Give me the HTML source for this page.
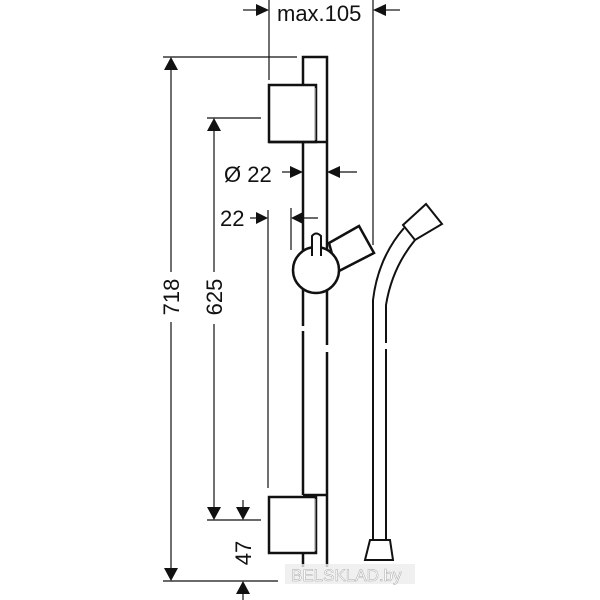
<!DOCTYPE html>
<html><head><style>
html,body{margin:0;padding:0;background:#fff;}
svg{display:block;}
text{font-family:"Liberation Sans","DejaVu Sans",sans-serif;fill:#111;}
</style></head><body>
<svg width="600" height="600" viewBox="0 0 600 600" xmlns="http://www.w3.org/2000/svg">
<g stroke="#111" fill="none">
 <g stroke-width="1.2">
  <line x1="269" y1="0" x2="269" y2="80"/>
  <line x1="373" y1="0" x2="373" y2="245"/>
  <line x1="243" y1="10" x2="258" y2="10"/>
  <line x1="385" y1="10" x2="400" y2="10"/>
  <line x1="163" y1="57" x2="297" y2="57"/>
  <line x1="171" y1="65" x2="171" y2="272"/>
  <line x1="171" y1="322" x2="171" y2="572"/>
  <line x1="163" y1="581" x2="278" y2="581"/>
  <line x1="207" y1="118" x2="261" y2="118"/>
  <line x1="214" y1="126" x2="214" y2="272"/>
  <line x1="214" y1="324" x2="214" y2="512"/>
  <line x1="207" y1="520" x2="261" y2="520"/>
  <line x1="243" y1="500" x2="243" y2="510"/>
  <line x1="243" y1="590" x2="243" y2="600"/>
  <line x1="282" y1="172" x2="294" y2="172"/>
  <line x1="336" y1="172" x2="357" y2="172"/>
  <line x1="250" y1="218" x2="258" y2="218"/>
  <line x1="268" y1="210" x2="268" y2="488"/>
  <line x1="291" y1="208" x2="291" y2="250"/>
  <line x1="300" y1="218" x2="318" y2="218"/>
 </g>
 <g fill="#111" stroke="none">
  <polygon points="269,10 256,4 256,16"/>
  <polygon points="373,10 386,4 386,16"/>
  <polygon points="171,57 164,70 178,70"/>
  <polygon points="171,581 164,568 178,568"/>
  <polygon points="214,118 207,131 221,131"/>
  <polygon points="214,520 207,507 221,507"/>
  <polygon points="243,520 236,507 250,507"/>
  <polygon points="243,581 236,594 250,594"/>
  <polygon points="303,172 290,166 290,178"/>
  <polygon points="327,172 340,166 340,178"/>
  <polygon points="268,218 256,212 256,224"/>
  <polygon points="291,218 303,212 303,224"/>
 </g>
 <g stroke-width="2.5">
  <polyline points="303,85 303,57 327,57 327,142"/>
  <line x1="303" y1="142" x2="303" y2="495"/>
  <line x1="327" y1="142" x2="327" y2="567"/>
  <line x1="303" y1="553" x2="303" y2="567"/>
  <rect x="269" y="85" width="47" height="57" fill="#fff"/>
  <line x1="269" y1="142" x2="327" y2="142"/>
  <line x1="303" y1="495" x2="327" y2="495"/>
  <rect x="269" y="497" width="47" height="56" fill="#fff"/>
  <polygon points="329,243 359,226 374,253 337,272" fill="#fff"/>
  <circle cx="316" cy="270" r="23" fill="#fff"/>
  <path d="M312,256 L312,236 Q316,231 321,236 L321,256" fill="#fff" stroke-width="2"/>
 </g>
 <g stroke-width="1.3" stroke="#aaa"><line x1="315" y1="88" x2="315" y2="140"/><line x1="315" y1="499" x2="315" y2="551"/></g>
 <g stroke-width="2">
  <path d="M404,228 Q378,258 373,300 L373,540"/>
  <path d="M415,240 Q392,268 386,305 L386,540"/>
  <polygon points="403,225 426,204 442,224 415,240" fill="#fff"/>
  <polygon points="370,540 390,540 393,560 365,560" fill="#fff"/>
 </g>
 <g stroke="#fff" stroke-width="4">
  <line x1="303" y1="326" x2="303" y2="331"/>
  <line x1="327" y1="345" x2="327" y2="352"/>
  <line x1="386" y1="343" x2="386" y2="349"/>
 </g>
</g>
<rect x="285" y="564" width="130" height="20" fill="#ececec" opacity="0.8"/>
<text x="291" y="581" font-size="17" style="fill:#fff;stroke:#aaa;stroke-width:0.5">BELSKLAD.by</text>
<text x="277" y="21" font-size="22">max.105</text>
<text x="224" y="182" font-size="22">Ø 22</text>
<text x="220" y="226" font-size="22">22</text>
<text transform="translate(179,297) rotate(-90)" font-size="22" text-anchor="middle">718</text>
<text transform="translate(222,297) rotate(-90)" font-size="22" text-anchor="middle">625</text>
<text transform="translate(251,553) rotate(-90)" font-size="22" text-anchor="middle">47</text>
</svg>
</body></html>
